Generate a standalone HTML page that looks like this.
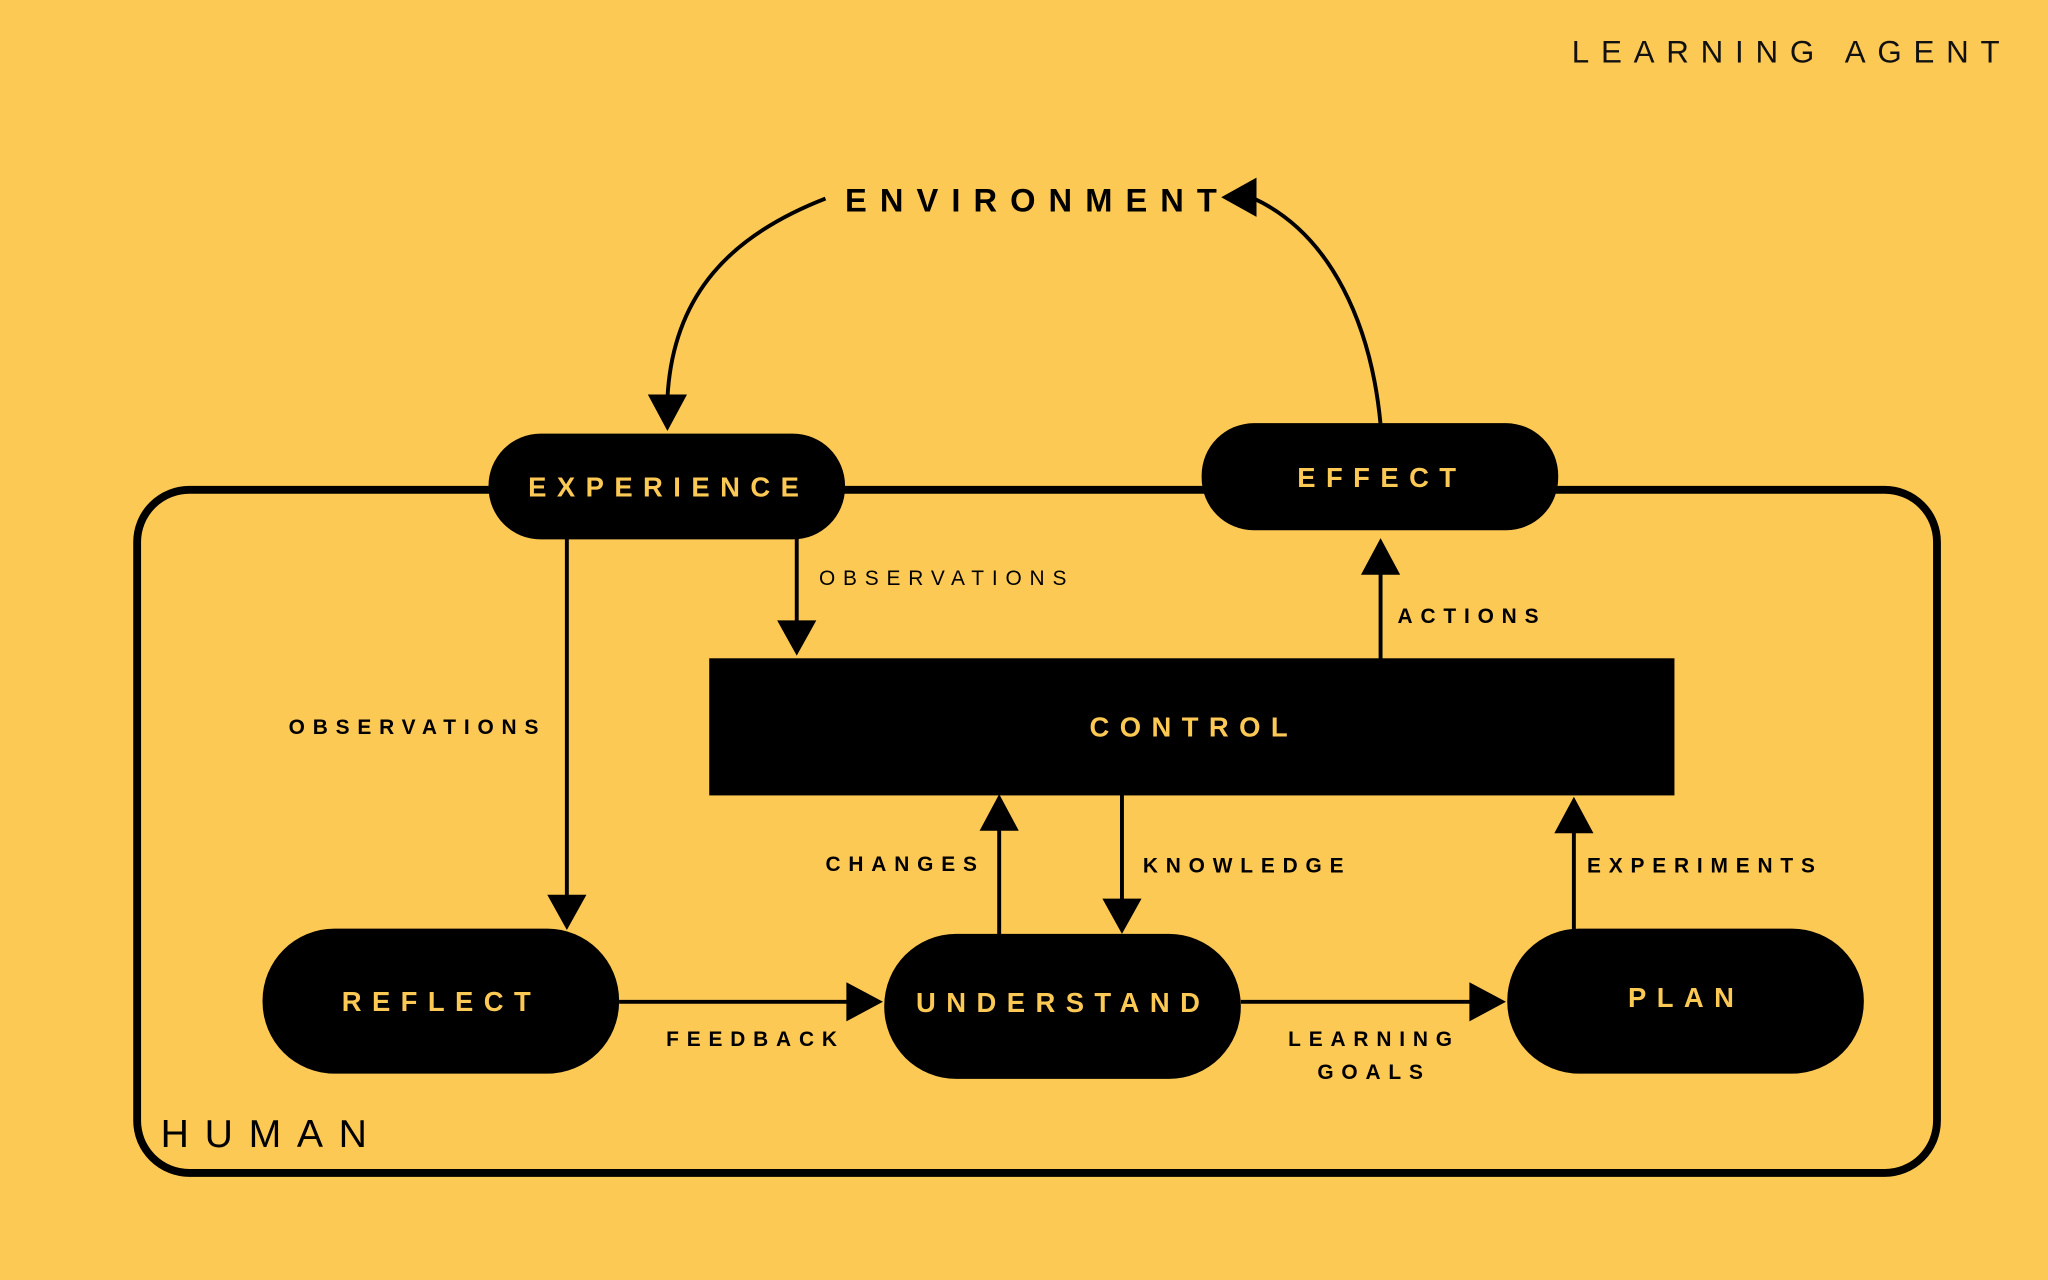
<!DOCTYPE html>
<html><head><meta charset="utf-8"><style>
html,body{margin:0;padding:0;background:#FDC955;}
svg{display:block}
text{font-family:"Liberation Sans",sans-serif;}
</style></head><body>
<svg width="2048" height="1280" viewBox="0 0 1568 980" preserveAspectRatio="none" xmlns="http://www.w3.org/2000/svg">
<rect width="1568" height="980" fill="#FDC955"/>
<text x="1540" y="48" text-anchor="end" font-size="24" letter-spacing="9" fill="#111">LEARNING AGENT</text>
<rect x="105" y="375" width="1378" height="523" rx="40" fill="none" stroke="#000" stroke-width="6"/>
<text x="123" y="878" font-size="30" letter-spacing="12" fill="#000">HUMAN</text>
<text x="647" y="162" font-size="25" font-weight="bold" letter-spacing="10" fill="#000">ENVIRONMENT</text>
<path d="M632 152 C560 180 515 225 511 305" fill="none" stroke="#000" stroke-width="3"/>
<polygon points="496,302 526,302 511,330" fill="#000"/>
<path d="M1057 325 C1050 250 1020 180 960 152" fill="none" stroke="#000" stroke-width="3"/>
<polygon points="935,151 962,136 962,166" fill="#000"/>
<g stroke="#000" stroke-width="3" fill="none">
<line x1="434" y1="410" x2="434" y2="688"/>
<line x1="610" y1="410" x2="610" y2="478"/>
<line x1="1057" y1="438" x2="1057" y2="505"/>
<line x1="765" y1="634" x2="765" y2="716"/>
<line x1="859" y1="608" x2="859" y2="690"/>
<line x1="1205" y1="636" x2="1205" y2="713"/>
<line x1="474" y1="767" x2="650" y2="767"/>
<line x1="950" y1="767" x2="1127" y2="767"/>
</g>
<g fill="#000">
<polygon points="419,685 449,685 434,712"/>
<polygon points="595,475 625,475 610,502"/>
<polygon points="1042,440 1072,440 1057,412"/>
<polygon points="750,636 780,636 765,608"/>
<polygon points="844,688 874,688 859,715"/>
<polygon points="1190,638 1220,638 1205,610"/>
<polygon points="648,752 648,782 676,767"/>
<polygon points="1125,752 1125,782 1153,767"/>
</g>
<rect x="374" y="332" width="273" height="81" rx="40" fill="#000"/>
<rect x="920" y="324" width="273" height="82" rx="40" fill="#000"/>
<rect x="543" y="504" width="739" height="105" fill="#000"/>
<rect x="201" y="711" width="273" height="111" rx="55" fill="#000"/>
<rect x="677" y="715" width="273" height="111" rx="55" fill="#000"/>
<rect x="1154" y="711" width="273" height="111" rx="55" fill="#000"/>
<g fill="#FDC955" font-size="21" font-weight="bold" letter-spacing="8" text-anchor="middle">
<text x="512" y="380">EXPERIENCE</text>
<text x="1058" y="373">EFFECT</text>
<text x="914" y="564">CONTROL</text>
<text x="338" y="774">REFLECT</text>
<text x="814" y="775">UNDERSTAND</text>
<text x="1291" y="771">PLAN</text>
</g>
<g fill="#000" font-size="16" letter-spacing="6">
<text x="627" y="448">OBSERVATIONS</text>
<text x="221" y="562" font-weight="bold">OBSERVATIONS</text>
<text x="1070" y="477" font-weight="bold">ACTIONS</text>
<text x="632" y="667" font-weight="bold">CHANGES</text>
<text x="875" y="668" font-weight="bold">KNOWLEDGE</text>
<text x="1215" y="668" font-weight="bold">EXPERIMENTS</text>
<text x="510" y="801" font-weight="bold">FEEDBACK</text>
<text x="1052" y="801" font-weight="bold" text-anchor="middle">LEARNING</text>
<text x="1052" y="826" font-weight="bold" text-anchor="middle">GOALS</text>
</g>
</svg>
</body></html>
